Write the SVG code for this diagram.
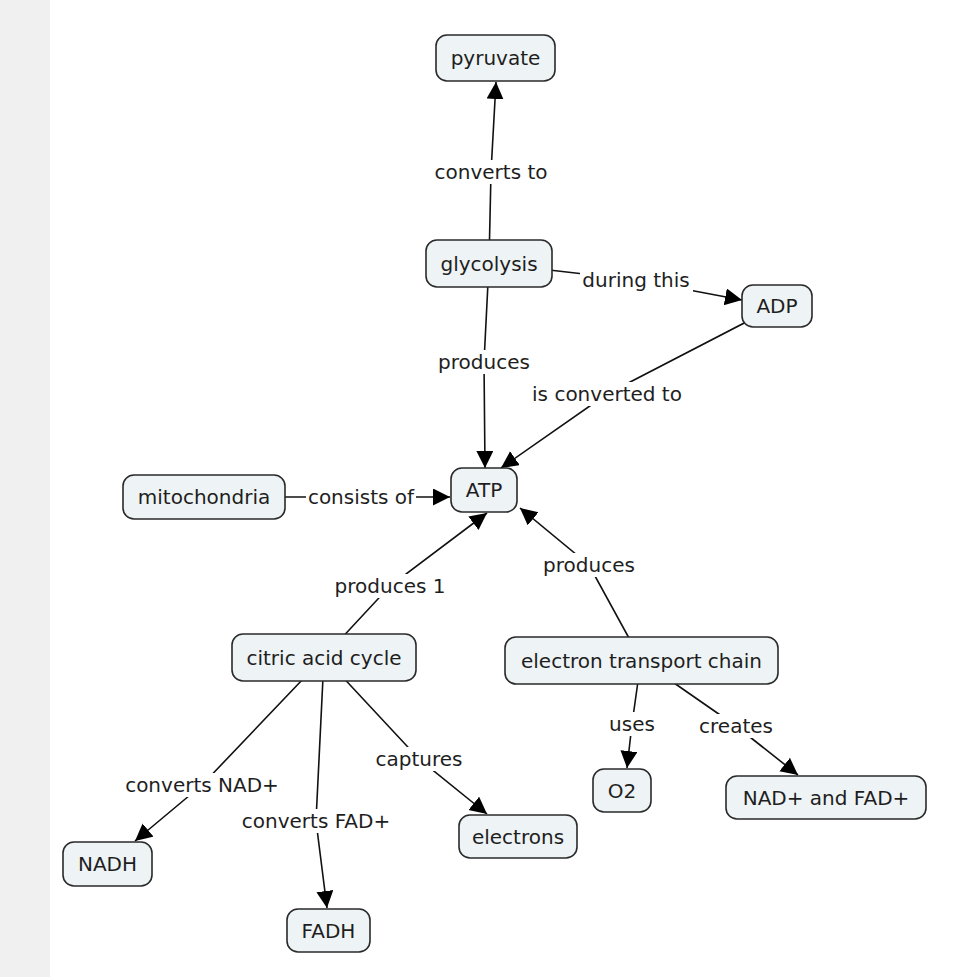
<svg xmlns="http://www.w3.org/2000/svg" width="961" height="977" viewBox="0 0 961 977">
<style>
.bg{fill:#ffffff}
.bar{fill:#f0f0f0}
.node rect{fill:#eef3f5;stroke:#2a2a2a;stroke-width:1.6}
text{font-family:"DejaVu Sans","Verdana",sans-serif;font-size:20px;fill:#1e1e1e;text-anchor:middle}
.edge{fill:none;stroke:#111;stroke-width:1.6}
.lbl rect{fill:#ffffff}
</style>
<defs>
<marker id="arr" markerUnits="userSpaceOnUse" markerWidth="20" markerHeight="20" refX="17" refY="8.5" orient="auto">
<path d="M0,0 L17,8.5 L0,17 z" fill="#000"/>
</marker>
</defs>
<rect class="bg" x="0" y="0" width="961" height="977"/>
<rect class="bar" x="0" y="0" width="50" height="977"/>

<g id="connectors">
<path class="edge" d="M489,263 L491,172 L496,82" marker-end="url(#arr)"/>
<path class="edge" d="M489,263 L636,280 L742,300" marker-end="url(#arr)"/>
<path class="edge" d="M489,263 L484,362 L485,468" marker-end="url(#arr)"/>
<path class="edge" d="M777,306 L607,394 L501,468" marker-end="url(#arr)"/>
<path class="edge" d="M204,497 L361,497 L450,497" marker-end="url(#arr)"/>
<path class="edge" d="M324,657 L390,586 L487,513" marker-end="url(#arr)"/>
<path class="edge" d="M641,660 L589,565 L520,508" marker-end="url(#arr)"/>
<path class="edge" d="M641,660 L632,724 L627,768" marker-end="url(#arr)"/>
<path class="edge" d="M641,660 L736,726 L798,775" marker-end="url(#arr)"/>
<path class="edge" d="M324,657 L202,785 L135,841" marker-end="url(#arr)"/>
<path class="edge" d="M324,657 L316,821 L327,908" marker-end="url(#arr)"/>
<path class="edge" d="M324,657 L419,759 L487,814" marker-end="url(#arr)"/>
</g>

<g id="labels">
<g class="lbl"><rect x="432" y="160" width="119" height="24"/><text x="491" y="179">converts to</text></g>
<g class="lbl"><rect x="580" y="268" width="113" height="24"/><text x="636" y="287">during this</text></g>
<g class="lbl"><rect x="435" y="350" width="98" height="24"/><text x="484" y="369">produces</text></g>
<g class="lbl"><rect x="529" y="382" width="156" height="24"/><text x="607" y="401">is converted to</text></g>
<g class="lbl"><rect x="306" y="485" width="110" height="24"/><text x="361" y="504">consists of</text></g>
<g class="lbl"><rect x="332" y="574" width="117" height="24"/><text x="390" y="593">produces 1</text></g>
<g class="lbl"><rect x="540" y="553" width="98" height="24"/><text x="589" y="572">produces</text></g>
<g class="lbl"><rect x="606" y="712" width="52" height="24"/><text x="632" y="731">uses</text></g>
<g class="lbl"><rect x="696" y="714" width="80" height="24"/><text x="736" y="733">creates</text></g>
<g class="lbl"><rect x="122" y="773" width="160" height="24"/><text x="202" y="792">converts NAD+</text></g>
<g class="lbl"><rect x="238" y="809" width="156" height="24"/><text x="316" y="828">converts FAD+</text></g>
<g class="lbl"><rect x="373" y="747" width="93" height="24"/><text x="419" y="766">captures</text></g>
</g>

<g id="pyruvate" class="node"><rect x="436" y="35" width="119" height="46" rx="11"/><text x="495.5" y="65">pyruvate</text></g>
<g id="glycolysis" class="node"><rect x="426" y="240" width="126" height="47" rx="11"/><text x="489" y="270.5">glycolysis</text></g>
<g id="ADP" class="node"><rect x="742" y="285" width="70" height="42" rx="11"/><text x="777" y="313">ADP</text></g>
<g id="mitochondria" class="node"><rect x="123" y="475" width="162" height="44" rx="11"/><text x="204" y="504">mitochondria</text></g>
<g id="ATP" class="node"><rect x="451" y="468" width="66" height="44" rx="11"/><text x="484" y="497">ATP</text></g>
<g id="citric" class="node"><rect x="232" y="634" width="184" height="47" rx="11"/><text x="324" y="664.5">citric acid cycle</text></g>
<g id="etc" class="node"><rect x="505" y="637" width="273" height="47" rx="11"/><text x="641.5" y="667.5">electron transport chain</text></g>
<g id="NADH" class="node"><rect x="63" y="842" width="89" height="44" rx="11"/><text x="107.5" y="871">NADH</text></g>
<g id="FADH" class="node"><rect x="287" y="909" width="83" height="43" rx="11"/><text x="328.5" y="937.5">FADH</text></g>
<g id="electrons" class="node"><rect x="459" y="815" width="118" height="43" rx="11"/><text x="518" y="843.5">electrons</text></g>
<g id="O2" class="node"><rect x="593" y="769" width="58" height="43" rx="11"/><text x="622" y="797.5">O2</text></g>
<g id="nadfad" class="node"><rect x="726" y="776" width="200" height="43" rx="11"/><text x="826" y="804.5">NAD+ and FAD+</text></g>
</svg>
